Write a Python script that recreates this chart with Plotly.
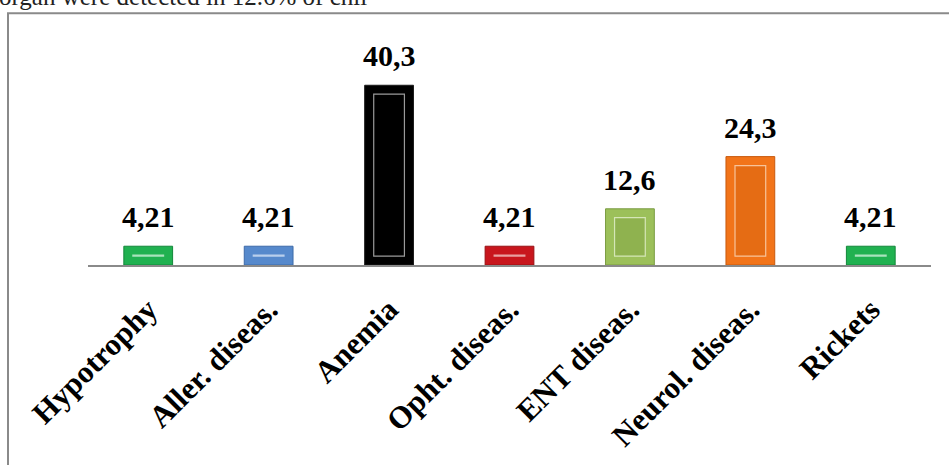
import plotly.graph_objects as go

# Chart data
categories = ["Hypotrophy", "Aller. diseas.", "Anemia", "Opht. diseas.",
              "ENT diseas.", "Neurol. diseas.", "Rickets"]
values = [4.21, 4.21, 40.3, 4.21, 12.6, 24.3, 4.21]
value_labels = ["4,21", "4,21", "40,3", "4,21", "12,6", "24,3", "4,21"]

# Bar styling (face, edge, inner bevel panel)
face_colors = ["#20B150", "#5689CC", "#000000", "#C8161D", "#9CC05A", "#F27419", "#20B150"]
edge_colors = ["#12873A", "#3C6AA8", "#1A1A1A", "#981014", "#7A9C42", "#C85A0E", "#12873A"]
inner_colors = ["#1DA84B", "#4F80C2", "#000000", "#BE141B", "#8FB24F", "#E56C14", "#1DA84B"]
inner_edges = ["#A9E3BC", "#B9CFEC", "#9A9A9A", "#E8A0A0", "#D5E6B7", "#F7C39A", "#A9E3BC"]

BAR_W = 0.405
INSET_Y = 2.0        # bevel inset in value units
INNER_W = 0.255

W, H = 949, 465
L, R, T, B = 88, 18, 42, 198
plot_w = W - L - R
plot_h = H - T - B
Y_MAX = 50

serif = "Liberation Serif, Times New Roman, serif"

fig = go.Figure()

fig.add_trace(go.Bar(
    x=categories, y=values, width=BAR_W,
    marker=dict(color=face_colors, line=dict(color=edge_colors, width=1)),
    hoverinfo="skip", showlegend=False,
))

inner_h = [max(v - 2 * INSET_Y, 0.2) for v in values]
fig.add_trace(go.Bar(
    x=categories, y=inner_h, base=[INSET_Y] * len(values), width=INNER_W,
    marker=dict(color=inner_colors, line=dict(color=inner_edges, width=1.2)),
    hoverinfo="skip", showlegend=False,
))

for cat, v, lab in zip(categories, values, value_labels):
    fig.add_annotation(
        x=cat, y=v, text=lab, showarrow=False, yanchor="bottom",
        yshift=11, font=dict(family=serif, size=30, color="black", weight="bold"),
    )

def px_x(px):
    return (px - L) / plot_w

def px_y(py):
    return (H - B - py) / plot_h

# Outer frame (runs off the right and bottom edges)
fig.add_shape(type="rect", xref="paper", yref="paper",
              x0=px_x(8), x1=px_x(W + 20), y0=px_y(H + 20), y1=px_y(13),
              line=dict(color="#8A8A8A", width=2), fillcolor="rgba(0,0,0,0)")

# Running text of the page above the frame
fig.add_annotation(
    xref="paper", yref="paper", x=px_x(-3), y=px_y(12),
    xanchor="left", yanchor="bottom", showarrow=False,
    text="organ were detected in 12.6% of chil",
    font=dict(family=serif, size=25, color="#222222"),
)

fig.update_layout(
    width=W, height=H,
    margin=dict(l=L, r=R, t=T, b=B, pad=0),
    paper_bgcolor="white", plot_bgcolor="white",
    barmode="overlay",
    xaxis=dict(
        showline=True, linecolor="#8A8A8A", linewidth=2,
        showgrid=False, ticks="", tickangle=-45,
        tickfont=dict(family=serif, size=31, color="black", weight="bold"),
        ticklabelstandoff=12,
    ),
    yaxis=dict(range=[0, Y_MAX], visible=False, showgrid=False, zeroline=False),
)

fig.write_html("out.html")
